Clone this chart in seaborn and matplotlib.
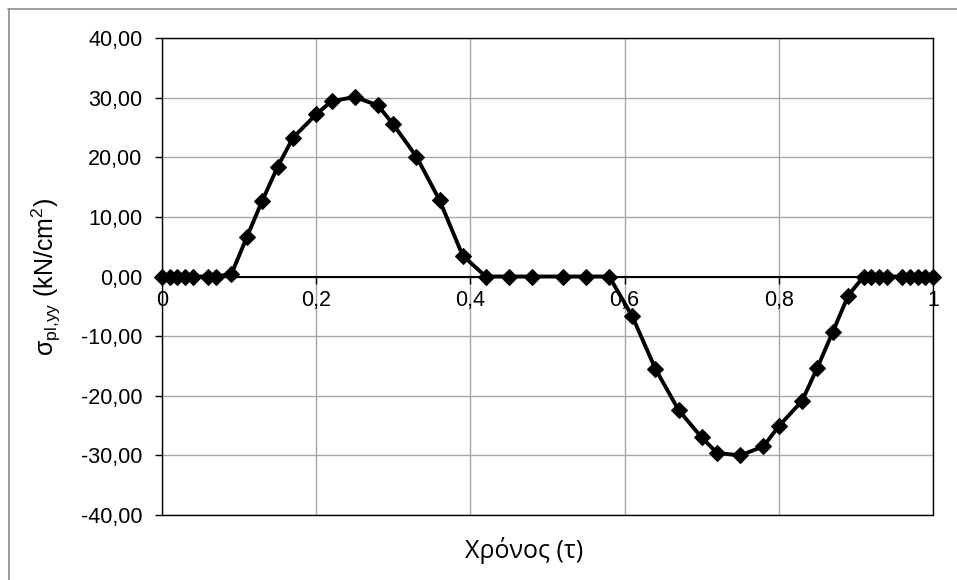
import matplotlib
matplotlib.use("Agg")
import matplotlib.pyplot as plt
import seaborn as sns
import pandas as pd
from matplotlib.ticker import FuncFormatter
from matplotlib.lines import Line2D

# Data
t = [0.00, 0.01, 0.02, 0.03, 0.04, 0.06, 0.07, 0.09,
     0.11, 0.13, 0.15, 0.17, 0.20, 0.22, 0.25, 0.28, 0.30, 0.33, 0.36, 0.39,
     0.42, 0.45, 0.48, 0.52, 0.55, 0.58,
     0.61, 0.64, 0.67, 0.70, 0.72, 0.75, 0.78, 0.80, 0.83, 0.85, 0.87, 0.89,
     0.91, 0.92, 0.93, 0.94, 0.96, 0.97, 0.98, 0.99, 1.00]
sigma = [0.0, 0.0, 0.0, 0.0, 0.0, 0.0, 0.0, 0.4,
         6.6, 12.7, 18.4, 23.3, 27.2, 29.4, 30.1, 28.7, 25.5, 20.1, 12.8, 3.5,
         0.0, 0.0, 0.0, 0.0, 0.0, 0.0,
         -6.7, -15.5, -22.4, -27.0, -29.6, -30.0, -28.5, -25.1, -20.9, -15.3, -9.3, -3.2,
         0.0, 0.0, 0.0, 0.0, 0.0, 0.0, 0.0, 0.0, 0.0]
x_ticks = [0, 0.2, 0.4, 0.6, 0.8, 1.0]
y_ticks = [-40, -30, -20, -10, 0, 10, 20, 30, 40]

df = pd.DataFrame({"t": t, "sigma": sigma})

sns.set_theme(style="white")
plt.rcParams['font.family'] = ['Liberation Sans', 'DejaVu Sans']

fig = plt.figure(figsize=(9.57, 5.80), dpi=100)
ax = fig.add_axes([162/957, 1-515/580, (933-162)/957, (515-38)/580])

ax.grid(True, color="#a6a6a6", linewidth=1.0)
ax.set_axisbelow(True)

sns.lineplot(data=df, x="t", y="sigma", ax=ax, color="black", linewidth=2.8,
             marker="D", markersize=8, markeredgecolor="black",
             markerfacecolor="black", zorder=5, clip_on=False)

ax.set_xlim(0, 1)
ax.set_ylim(-40, 40)
ax.set_xticks(x_ticks)
ax.set_yticks(y_ticks)

def fx(v, pos):
    return ("%g" % round(v, 4)).replace(".", ",")

def fy(v, pos):
    return ("%.2f" % v).replace(".", ",")

ax.xaxis.set_major_formatter(FuncFormatter(fx))
ax.yaxis.set_major_formatter(FuncFormatter(fy))

for s in ["left", "right", "top"]:
    ax.spines[s].set_color("black")
    ax.spines[s].set_linewidth(1.0)
ax.spines["bottom"].set_position(("data", 0))
ax.spines["bottom"].set_color("black")
ax.spines["bottom"].set_linewidth(1.5)
ax.spines["bottom"].set_zorder(4)
ax.axhline(-40, color="black", linewidth=1.0, clip_on=False, zorder=4)

ax.tick_params(axis="both", which="both", direction="out", length=5, width=1,
               color="black", labelsize=15.5, labelcolor="black")
ax.tick_params(axis="x", pad=5, bottom=True)
ax.tick_params(axis="y", pad=9, left=True)

ax.set_xlabel("")
ax.set_ylabel("")
fig.text(524/957, 1-551/580, "Χρόνος (τ)", ha="center", va="center",
         fontsize=18, family=["Open Sans", "DejaVu Sans"], color="black")
fig.text(46/957, 1-277/580, r"σ$_{\mathregular{pl{,}yy}}$ (kN/cm$^{\mathregular{2}}$)",
         rotation=90, ha="center", va="center", fontsize=18, color="black")

# chart frame
fig.add_artist(Line2D([8/957, 1.0], [1-8.5/580, 1-8.5/580], color="#8c8c8c", linewidth=1.2))
fig.add_artist(Line2D([8.5/957, 8.5/957], [0.0, 1-8.5/580], color="#8c8c8c", linewidth=1.2))

fig.savefig("out.png", dpi=100)
